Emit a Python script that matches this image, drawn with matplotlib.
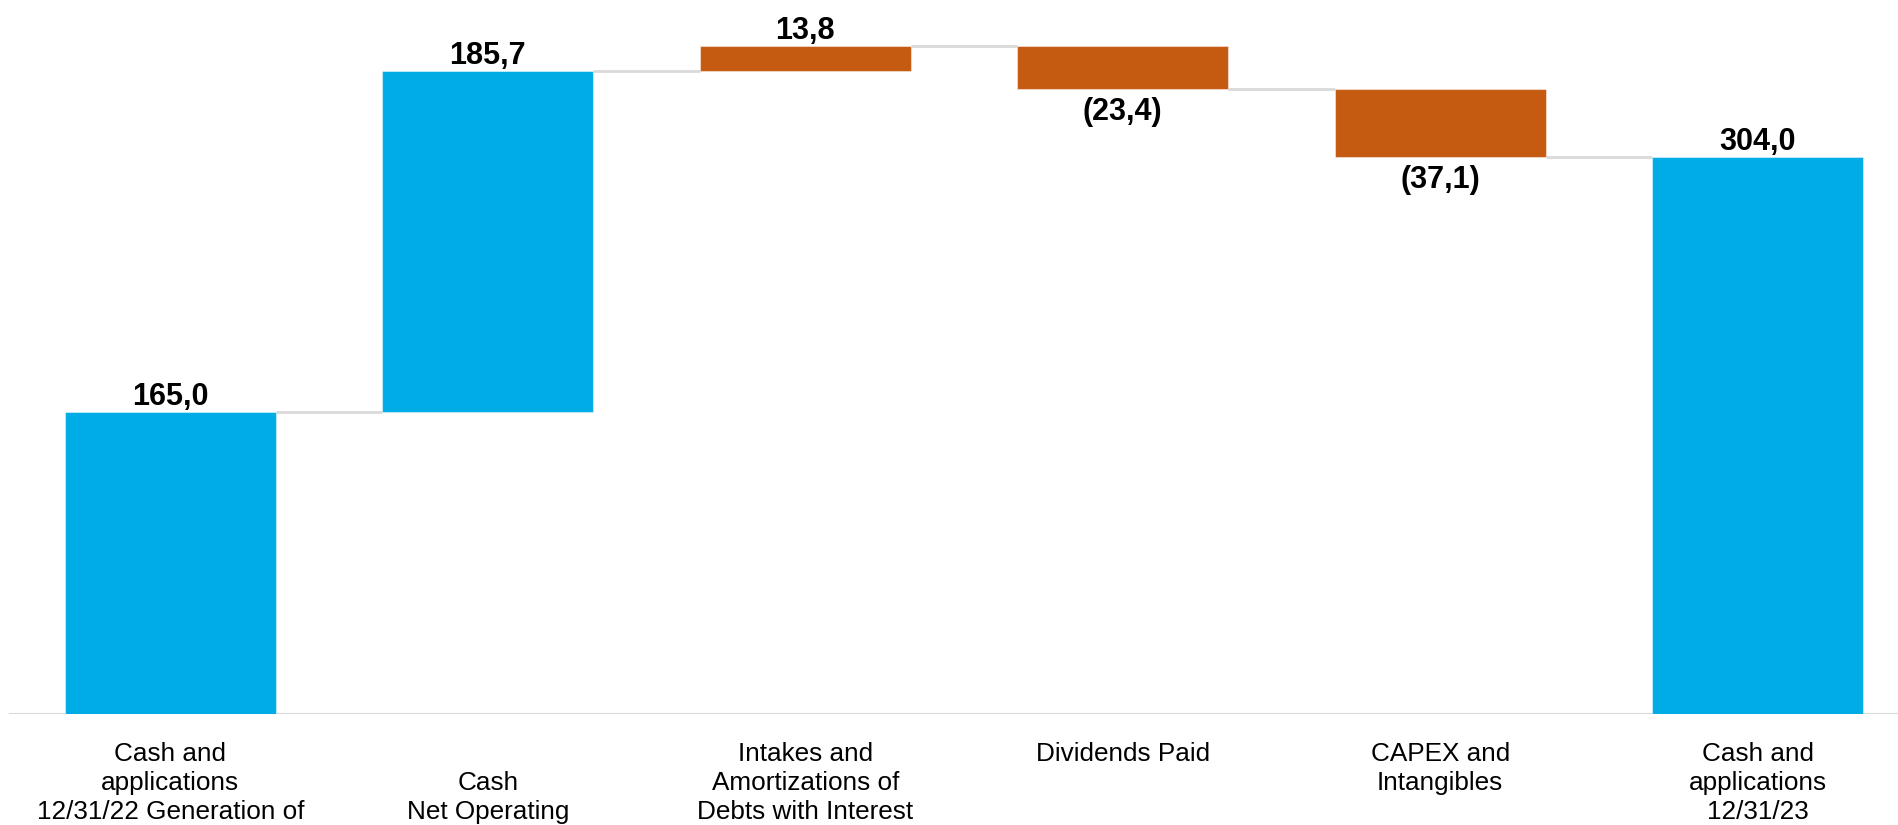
import matplotlib.pyplot as plt

# Cash flow bridge, 2022 -> 2023 (R$ million)
categories = ['Cash and\napplications\n12/31/22 Generation of',
              '\nCash\nNet Operating',
              'Intakes and\nAmortizations of\nDebts with Interest',
              'Dividends Paid',
              'CAPEX and\nIntangibles',
              'Cash and\napplications\n12/31/23']
values = [165.0, 185.7, 13.8, -23.4, -37.1, 304.0]
is_total = [True, False, False, False, False, True]
value_labels = ['165,0', '185,7', '13,8', '(23,4)', '(37,1)', '304,0']

blue = '#00ACE6'
orange = '#C55A11'
bar_colors = [blue, blue, orange, orange, orange, blue]
grid_gray = '#D9D9D9'

plt.rcParams['font.family'] = ['Liberation Sans', 'DejaVu Sans']

fig = plt.figure(figsize=(18.98, 8.25), dpi=100)
ax = fig.add_axes([9 / 1898, 111 / 825, 1 - 9 / 1898, 714 / 825])

# work out the floating bottoms of each step
bottoms = []
tops = []
running = 0.0
for v, tot in zip(values, is_total):
    if tot:
        bottoms.append(0.0)
        tops.append(v)
        running = v
    else:
        start = running
        running = running + v
        bottoms.append(min(start, running))
        tops.append(max(start, running))

x = list(range(len(values)))
width = 0.665
heights = [t - b for t, b in zip(tops, bottoms)]
ax.bar(x, heights, bottom=bottoms, width=width, color=bar_colors,
       edgecolor=(1, 1, 1, 0.45), linewidth=0.8, zorder=3)

# connectors between neighbouring bars at the running level
running = 0.0
levels = []
for v, tot in zip(values, is_total):
    running = v if tot else running + v
    levels.append(running)
for i in range(len(values) - 1):
    ax.plot([i + width / 2, i + 1 - width / 2], [levels[i], levels[i]],
            color=grid_gray, lw=2, zorder=2, solid_capstyle='butt')

# value labels: above for totals/increases, below for decreases
for i, (v, lab) in enumerate(zip(values, value_labels)):
    if v >= 0:
        ax.annotate(lab, (i, tops[i]), xytext=(0, 0), textcoords='offset points',
                    ha='center', va='bottom', fontsize=22, fontweight='bold')
    else:
        ax.annotate(lab, (i, bottoms[i]), xytext=(0, -6), textcoords='offset points',
                    ha='center', va='top', fontsize=22, fontweight='bold')

ax.axhline(0, color=grid_gray, lw=2.2, zorder=1)

ax.set_xlim(-0.508, 5.442)
ax.set_ylim(0, 389.5)
ax.set_xticks(x)
ax.set_xticklabels(categories, fontsize=18.8, linespacing=1.26, va='top')
ax.tick_params(axis='x', length=0, pad=20)
ax.set_yticks([])
for s in ax.spines.values():
    s.set_visible(False)

fig.savefig('out.png', dpi=100)
